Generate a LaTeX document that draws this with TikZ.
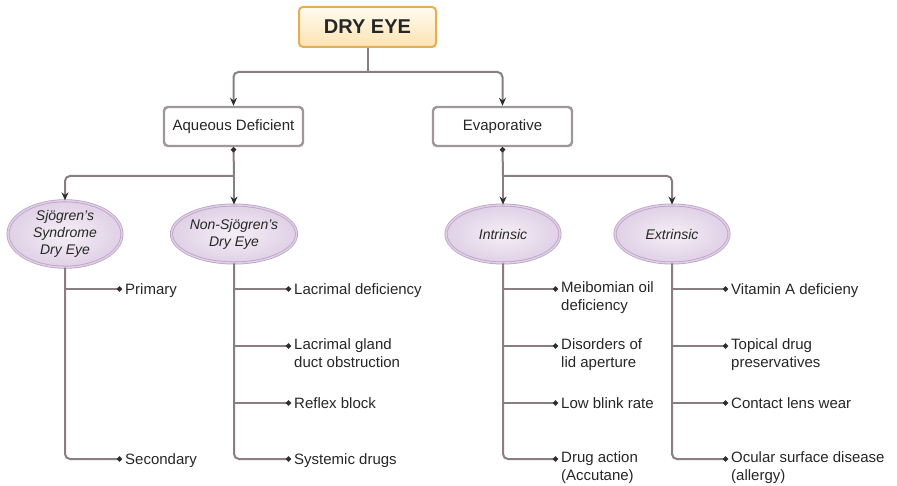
\documentclass[tikz,border=0pt]{standalone}
\usepackage{fontspec}
\setmainfont{Liberation Sans}
\usetikzlibrary{arrows.meta,shapes.geometric,positioning}
\definecolor{linegray}{HTML}{8A7E80}
\definecolor{tipgray}{HTML}{2E2E2E}
\definecolor{titleborder}{HTML}{E6AE50}
\definecolor{titletop}{HTML}{FFFBF0}
\definecolor{titlebottom}{HTML}{FCE3B2}
\definecolor{boxborder}{HTML}{A0979A}
\definecolor{ellborder}{HTML}{BCA3C6}
\definecolor{ellinner}{HTML}{F4EFF6}
\definecolor{ellouter}{HTML}{E0D0E6}

\begin{document}
\begin{tikzpicture}[x=1pt,y=-1pt,
  title node/.style={draw=titleborder,line width=2pt,rounded corners=4pt,top color=titletop,bottom color=titlebottom,minimum width=137pt,minimum height=40pt,font=\fontsize{20}{24}\selectfont\bfseries,text=black!85},
  type node/.style={draw=boxborder,line width=2.4pt,rounded corners=4pt,fill=white,minimum width=139pt,minimum height=39pt,font=\fontsize{15}{18}\selectfont,text=black!85},
  sub node/.style={ellipse,draw=ellborder,line width=0.8pt,double=ellouter,double distance=1.4pt,inner color=ellinner,outer color=ellouter,minimum width=114pt,minimum height=58pt,inner sep=0pt,align=center,font=\fontsize{14}{17}\selectfont\itshape,text=black!85},
  leaf/.style={anchor=north west,xshift=3pt,yshift=7.1pt,inner sep=0pt,align=left,font=\fontsize{15}{18}\selectfont,text=black!85,execute at begin node=\strut},
  arr/.style={draw=linegray,line width=2pt,rounded corners=5pt,-{Stealth[length=8pt,width=7pt,color=tipgray]}},
  dotarr/.style={draw=linegray,line width=2pt,{Circle[length=5pt,color=tipgray]}-},
  stem/.style={draw=linegray,line width=2pt,rounded corners=5pt,-{Circle[length=5pt,color=tipgray]}},
  branch/.style={draw=linegray,line width=2pt,-{Circle[length=5pt,color=tipgray]}}]

\useasboundingbox (0,0) rectangle (897,486);

% headings
\node[title node] (dry) at (367.5,27) {DRY EYE};
\node[type node] (aq) at (233.5,126.5) {Aqueous Deficient};
\node[type node] (ev) at (502.5,126.5) {Evaporative};

\node[sub node] (sjo) at (65,234) {Sjögren's\\Syndrome\\Dry Eye};
\node[sub node] (non) at (234,234) {Non-Sjögren's\\Dry Eye};
\node[sub node] (intr) at (503,234) {Intrinsic};
\node[sub node] (extr) at (672,234) {Extrinsic};

% splits
\coordinate (top split) at (368,72);
\coordinate (aq split) at (234,176);
\coordinate (ev split) at (503,176);

\draw[draw=linegray,line width=2pt] (dry.south -| top split) -- (top split);
\draw[arr] (top split) -| (aq.north);
\draw[arr] (top split) -| (ev.north);

\draw[dotarr] (aq.south) -- (aq split);
\draw[arr] (aq split) -- (non.north);
\draw[arr] (aq split) -| (sjo.north);

\draw[dotarr] (ev.south) -- (ev split);
\draw[arr] (ev split) -- (intr.north);
\draw[arr] (ev split) -| (extr.north);

% Sjogren leaves
\coordinate (prim dot) at (122,289);
\coordinate (sec dot) at (122,459);
\draw[stem] (sjo.south) |- (sec dot);
\draw[branch] (sjo.south |- prim dot) -- (prim dot);
\node[leaf] (prim) at (prim dot) {Primary};
\node[leaf] (sec) at (sec dot) {Secondary};

% Non-Sjogren leaves
\coordinate (lacdef dot) at (291,289);
\coordinate (lacgland dot) at (291,346);
\coordinate (reflex dot) at (291,403);
\coordinate (sysdrug dot) at (291,459);
\draw[stem] (non.south) |- (sysdrug dot);
\draw[branch] (non.south |- lacdef dot) -- (lacdef dot);
\draw[branch] (non.south |- lacgland dot) -- (lacgland dot);
\draw[branch] (non.south |- reflex dot) -- (reflex dot);
\node[leaf] (lacdef) at (lacdef dot) {Lacrimal deficiency};
\node[leaf] (lacgland) at (lacgland dot) {Lacrimal gland\\duct obstruction};
\node[leaf] (reflex) at (reflex dot) {Reflex block};
\node[leaf] (sysdrug) at (sysdrug dot) {Systemic drugs};

% Intrinsic leaves
\coordinate (meib dot) at (558,289);
\coordinate (lid dot) at (558,346);
\coordinate (blink dot) at (558,403);
\coordinate (drug dot) at (558,459);
\draw[stem] (intr.south) |- (drug dot);
\draw[branch] (intr.south |- meib dot) -- (meib dot);
\draw[branch] (intr.south |- lid dot) -- (lid dot);
\draw[branch] (intr.south |- blink dot) -- (blink dot);
\node[leaf] (meib) at (meib dot) {Meibomian oil\\deficiency};
\node[leaf] (lid) at (lid dot) {Disorders of\\lid aperture};
\node[leaf] (blink) at (blink dot) {Low blink rate};
\node[leaf] (drug) at (drug dot) {Drug action\\(Accutane)};

% Extrinsic leaves
\coordinate (vita dot) at (728,289);
\coordinate (topical dot) at (728,346);
\coordinate (lens dot) at (728,403);
\coordinate (ocular dot) at (728,459);
\draw[stem] (extr.south) |- (ocular dot);
\draw[branch] (extr.south |- vita dot) -- (vita dot);
\draw[branch] (extr.south |- topical dot) -- (topical dot);
\draw[branch] (extr.south |- lens dot) -- (lens dot);
\node[leaf] (vita) at (vita dot) {Vitamin A deficieny};
\node[leaf] (topical) at (topical dot) {Topical drug\\preservatives};
\node[leaf] (lens) at (lens dot) {Contact lens wear};
\node[leaf] (ocular) at (ocular dot) {Ocular surface disease\\(allergy)};
\end{tikzpicture}
\end{document}
